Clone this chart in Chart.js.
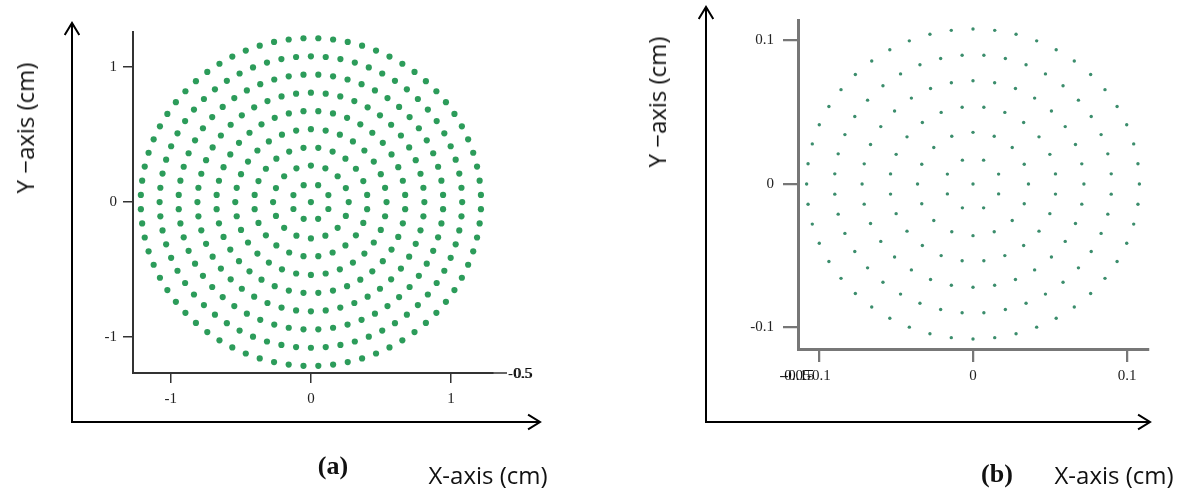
<!DOCTYPE html>
<html>
<head>
<meta charset="UTF-8">
<title>Circular emitter arrays</title>
<script src="https://cdn.jsdelivr.net/npm/chart.js"></script>
<style>
  body { margin: 0; background: #fff; width: 1184px; height: 490px; position: relative; overflow: hidden; }
  canvas { position: absolute; top: 0; }
  .lbl { position: absolute; white-space: nowrap; transform: translate(-50%, -50%); color: #111; line-height: 1; }
  .axt { font-family: "Open Sans", sans-serif; font-size: 24px; }
  .pan { font-family: "Liberation Serif", serif; font-weight: bold; font-size: 26px; }
  .rot { transform: translate(-50%, -50%) rotate(-90deg); }
</style>
</head>
<body>
<canvas id="chartA" width="592" height="490" style="left:0"></canvas>
<canvas id="chartB" width="592" height="490" style="left:592px"></canvas>

<div class="lbl axt rot" style="left:25px;top:128px">Y −axis (cm)</div>
<div class="lbl axt" style="left:488px;top:475px">X-axis (cm)</div>
<div class="lbl pan" style="left:333px;top:466px">(a)</div>

<div class="lbl axt rot" style="left:657px;top:102px">Y −axis (cm)</div>
<div class="lbl axt" style="left:1114px;top:475px">X-axis (cm)</div>
<div class="lbl pan" style="left:997px;top:474px">(b)</div>

<script>
// (a) rings: radius (cm), dots per ring, angular shift (fraction of one step)
const ringRadiusA = [0, 0.135, 0.27, 0.405, 0.54, 0.675, 0.81, 0.945, 1.08, 1.215];
const ringCountA  = [1, 8, 16, 24, 32, 40, 48, 56, 64, 72];
const ringShiftA  = [0, 0.5, 0, 0.5, 0, 0.5, 0, 0.5, 0, 0.5];
const xTicksA = [-1, 0, 1];
const yTicksA = [-1, 0, 1];

// (b) rings
const ringRadiusB = [0, 0.018, 0.036, 0.054, 0.072, 0.09, 0.108];
const ringCountB  = [1, 8, 16, 24, 32, 40, 48];
const ringShiftB  = [0, 0.5, 0, 0.5, 0, 0.5, 0];
const xTicksB = [-0.1, 0, 0.1];
const yTicksB = [-0.1, 0, 0.1];

function ringPoints(radii, counts, shifts) {
    var pts = [];
    radii.forEach(function(r, i) {
        for (var j = 0; j < counts[i]; j++) {
            var a = 2 * Math.PI * (j + shifts[i]) / counts[i];
            pts.push({ x: r * Math.cos(a), y: r * Math.sin(a) });
        }
    });
    return pts;
}

function axis(min, max, tickVals, fit, color, width, tl, pad) {
    return {
        type: 'linear', min: min, max: max,
        afterBuildTicks: function(s) { s.ticks = tickVals.map(function(v) { return { value: v }; }); },
        afterFit: fit,
        grid: { display: true, drawOnChartArea: false, drawTicks: true, tickLength: tl, color: color, lineWidth: width * 0.75 },
        border: { display: true, color: color, width: width },
        ticks: { font: { family: 'Liberation Serif', size: 15 }, color: '#222', padding: pad, maxRotation: 0, autoSkip: false }
    };
}

function arrow(ctx, x1, y1, x2, y2) {
    var ang = Math.atan2(y2 - y1, x2 - x1), h = 14;
    ctx.beginPath();
    ctx.moveTo(x1, y1); ctx.lineTo(x2, y2);
    ctx.moveTo(x2 - h * Math.cos(ang - 0.55), y2 - h * Math.sin(ang - 0.55));
    ctx.lineTo(x2, y2);
    ctx.lineTo(x2 - h * Math.cos(ang + 0.55), y2 - h * Math.sin(ang + 0.55));
    ctx.stroke();
}

const decoA = {
    id: 'decoA',
    afterDraw: function(chart) {
        var ctx = chart.ctx;
        ctx.save();
        ctx.strokeStyle = '#000'; ctx.lineWidth = 2;
        arrow(ctx, 72, 422, 72, 23);
        arrow(ctx, 71, 422, 540, 422);
        ctx.strokeStyle = '#333'; ctx.lineWidth = 1.5;
        ctx.beginPath(); ctx.moveTo(493, 373); ctx.lineTo(507, 373); ctx.stroke();
        ctx.fillStyle = '#111'; ctx.font = '15px "Liberation Serif"';
        ctx.textBaseline = 'middle';
        ctx.fillText('-0.5', 508, 374);
        ctx.fillText('0.5', 514, 374);
        ctx.restore();
    }
};

const decoB = {
    id: 'decoB',
    afterDraw: function(chart) {
        var ctx = chart.ctx;
        ctx.save();
        ctx.strokeStyle = '#000'; ctx.lineWidth = 2;
        arrow(ctx, 114, 422, 114, 7);
        arrow(ctx, 113, 422, 558, 422);
        ctx.fillStyle = '#111'; ctx.font = '15px "Liberation Serif"';
        ctx.textBaseline = 'middle'; ctx.textAlign = 'center';
        ctx.fillText('-0.05', 203, 376);
        ctx.fillText('-0.15', 207, 376);
        ctx.restore();
    }
};

new Chart(document.getElementById('chartA'), {
    type: 'scatter',
    data: { datasets: [{
        data: ringPoints(ringRadiusA, ringCountA, ringShiftA),
        pointRadius: 3.1, pointBackgroundColor: '#2c9c5a', pointBorderWidth: 0
    }] },
    options: {
        responsive: false, animation: false,
        layout: { padding: { left: 0, top: 32, right: 99, bottom: 77 } },
        plugins: { legend: { display: false }, tooltip: { enabled: false } },
        scales: {
            x: axis(-1.27, 1.30, xTicksA, function(s) { s.height = 40; }, '#333', 2, 10, 7),
            y: axis(-1.267, 1.26, yTicksA, function(s) { s.width = 133; }, '#333', 2, 10, 6)
        }
    },
    plugins: [decoA]
});

new Chart(document.getElementById('chartB'), {
    type: 'scatter',
    data: { datasets: [{
        data: ringPoints(ringRadiusB, ringCountB, ringShiftB),
        pointRadius: 1.7, pointBackgroundColor: '#3b8d6c', pointBorderWidth: 0
    }] },
    options: {
        responsive: false, animation: false,
        layout: { padding: { left: 0, top: 20, right: 36, bottom: 101 } },
        plugins: { legend: { display: false }, tooltip: { enabled: false } },
        scales: {
            x: axis(-0.1136, 0.1136, xTicksB, function(s) { s.height = 40; }, '#777', 3, 13, 5),
            y: axis(-0.115, 0.1143, yTicksB, function(s) { s.width = 206; }, '#777', 3, 15, 9)
        }
    },
    plugins: [decoB]
});
</script>
</body>
</html>
